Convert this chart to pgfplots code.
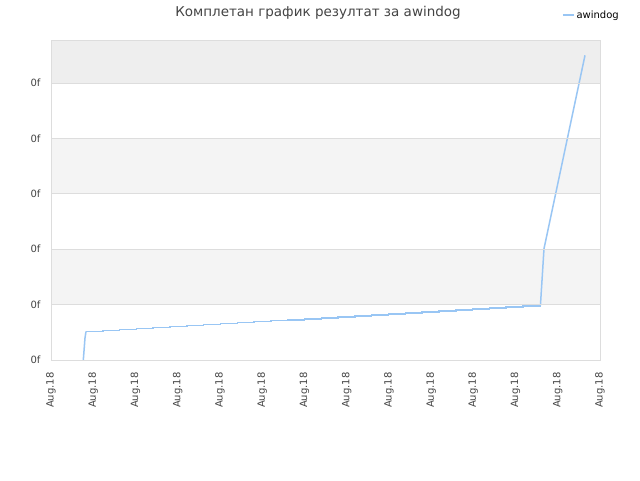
\documentclass[border=0pt]{standalone}
\usepackage{pgfplots}
\pgfplotsset{compat=1.18}
\usepackage{fontspec}
\setmainfont{DejaVu Sans}
\definecolor{lineblue}{HTML}{99C6F4}
\definecolor{bandtop}{HTML}{EEEEEE}
\definecolor{band}{HTML}{F4F4F4}
\definecolor{gridgray}{HTML}{DDDDDD}
\definecolor{txt}{HTML}{444444}
\begin{document}
\begin{tikzpicture}
\path[use as bounding box, fill=white] (0pt,0pt) rectangle (640pt,480pt);
\begin{axis}[
    at={(51pt,120pt)}, anchor=south west,
    scale only axis,
    width=549pt, height=320pt,
    xmin=0, xmax=13, ymin=0, ymax=5.776,
    axis on top,
    axis line style={draw=gridgray},
    xtick={0,1,...,13},
    xticklabels={Aug.18,Aug.18,Aug.18,Aug.18,Aug.18,Aug.18,Aug.18,Aug.18,Aug.18,Aug.18,Aug.18,Aug.18,Aug.18,Aug.18},
    x tick label style={rotate=90, anchor=east, font=\fontsize{10}{12}\selectfont, text=txt},
    ytick={0,1,2,3,4,5},
    yticklabels={0f,0f,0f,0f,0f,0f},
    y tick label style={font=\fontsize{10}{12}\selectfont, text=txt},
    major tick length=0pt,
    xticklabel shift=9pt,
    yticklabel shift=7pt,
    ymajorgrids, grid style={gridgray, line width=0.8pt},
    legend style={at={(0.925,1.078)}, anchor=west, draw=none, fill=none,
        font=\fontsize{10}{12}\selectfont, legend cell align=left},
    legend image code/.code={\draw[#1] (0pt,0pt) -- (11pt,0pt);},
]
\addplot[draw=none, fill=bandtop, forget plot] coordinates {(0,5) (13,5) (13,5.776) (0,5.776)} -- cycle;
\addplot[draw=none, fill=band, forget plot] coordinates {(0,3) (13,3) (13,4) (0,4)} -- cycle;
\addplot[draw=none, fill=band, forget plot] coordinates {(0,1) (13,1) (13,2) (0,2)} -- cycle;
\addplot[lineblue, line width=1.5pt, mark=none] coordinates {
    (0.765,0) (0.805,0.397) (0.829,0.514)
};
\addlegendentry{awindog}
\addplot[lineblue, line width=1.5pt, mark=none, const plot, forget plot] coordinates {
    (0.829,0.514) (1.227,0.532) (1.625,0.549) (2.023,0.567) (2.421,0.585)
    (2.819,0.603) (3.217,0.620) (3.615,0.638) (4.013,0.656) (4.411,0.673)
    (4.809,0.691) (5.207,0.709) (5.605,0.726) (6.003,0.744) (6.401,0.762)
    (6.799,0.780) (7.197,0.797) (7.595,0.815) (7.993,0.833) (8.391,0.850)
    (8.789,0.868) (9.187,0.886) (9.585,0.903) (9.983,0.921) (10.381,0.939)
    (10.779,0.957) (11.177,0.974) (11.575,0.992)
};
\addplot[lineblue, line width=1.5pt, mark=none, forget plot] coordinates {
    (11.575,0.992) (11.59,0.993) (11.674,2.01) (12.645,5.50)
};
\end{axis}
\node[text=txt, font=\fontsize{13.5}{16}\selectfont] at (318pt,467pt) {Комплетан график резултат за awindog};
\end{tikzpicture}
\end{document}
